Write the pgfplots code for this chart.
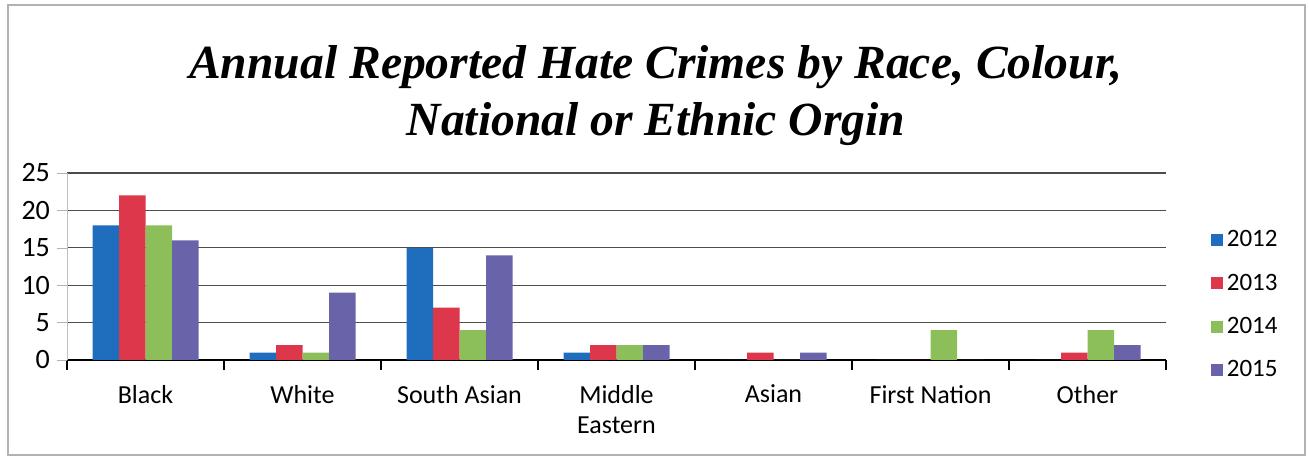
\documentclass[border=0pt]{standalone}
\usepackage{pgfplots}
\pgfplotsset{compat=1.18}
\usepackage{fontspec}
\setmainfont{Carlito}
\newfontfamily\titlefont{Liberation Serif}
\definecolor{c2012}{RGB}{31,110,190}
\definecolor{c2013}{RGB}{220,55,75}
\definecolor{c2014}{RGB}{140,190,90}
\definecolor{c2015}{RGB}{105,100,170}
\begin{document}
\begin{tikzpicture}[x=1pt,y=1pt]
\useasboundingbox (0,0) rectangle (654.5,229.5);
\draw[gray!60, line width=0.6pt] (4,2) rectangle (652.5,227);
\node[align=center, font=\titlefont\bfseries\itshape\fontsize{23.8}{28.5}\selectfont] at (328,181.5) {Annual Reported Hate Crimes by Race, Colour,\\National or Ethnic Orgin};
\begin{axis}[
  at={(33.5pt,49.5pt)}, anchor=south west,
  scale only axis, width=549.5pt, height=93.5pt,
  ybar=0pt, bar width=13.25pt,
  ymin=0, ymax=25, ytick={0,5,...,25},
  xmin=-0.5, xmax=6.5,
  xtick={-0.5,0.5,...,6.5},
  x tick label as interval,
  xticklabels={Black,White,South Asian,{Middle\\Eastern},Asian,First Nation,Other},
  xticklabel style={align=center, font=\fontsize{13}{15}\selectfont, yshift=-4pt},
  yticklabel style={font=\fontsize{14}{15}\selectfont},
  /pgf/number format/assume math mode=true,
  major tick length=5pt, tick align=outside,
  xtick style={draw=black, line width=0.7pt},
  axis x line*=bottom, axis y line*=left,
  x axis line style={-, black, line width=0.8pt},
  y axis line style={-, gray!50, line width=0.5pt},
  ytick style={draw=gray!60},
  ymajorgrids, xmajorgrids=false, grid style={gray!60!black, line width=0.6pt},
  legend style={draw=none, at={(1.035,0.294)}, anchor=west, font=\fontsize{12.5}{14}\selectfont, row sep=8pt, fill=none},
  legend cell align=left,
  legend image code/.code={\fill[#1] (0pt,-3pt) rectangle (6pt,3pt);},
]
\addplot[fill=c2012, draw=none] coordinates {(0,18) (1,1) (2,15) (3,1) (4,0) (5,0) (6,0)};
\addplot[fill=c2013, draw=none] coordinates {(0,22) (1,2) (2,7) (3,2) (4,1) (5,0) (6,1)};
\addplot[fill=c2014, draw=none] coordinates {(0,18) (1,1) (2,4) (3,2) (4,0) (5,4) (6,4)};
\addplot[fill=c2015, draw=none] coordinates {(0,16) (1,9) (2,14) (3,2) (4,1) (5,0) (6,2)};
\legend{2012,2013,2014,2015}
\end{axis}
\end{tikzpicture}
\end{document}
